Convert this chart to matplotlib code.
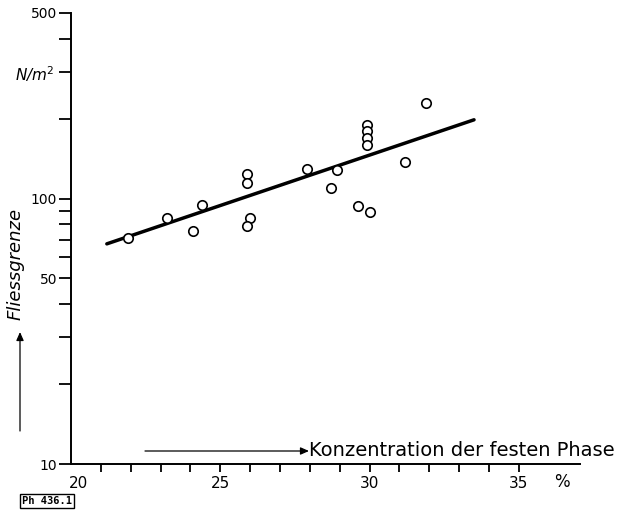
import matplotlib
matplotlib.use("Agg")
import matplotlib.pyplot as plt
from matplotlib.ticker import FixedLocator, FixedFormatter, NullLocator
import numpy as np

# data
konz = [21.9, 23.2, 24.1, 24.4, 25.9, 25.9, 26.0, 25.9, 27.9, 28.9, 28.7,
        29.9, 29.9, 29.9, 29.9, 31.2, 31.9, 29.6, 30.0]
fliess = [70.8, 84.3, 75.3, 94.4, 124, 114, 84.3, 78.8, 129, 128, 110,
          190, 179, 169, 158.5, 137, 229, 93.9, 89.3]
fit_x = [21.2, 33.5]
fit_y = [67.5, 198]

x_ticks = list(range(21, 36))
x_labels = {25: "25", 30: "30", 35: "35"}
y_ticks = [10, 20, 30, 40, 50, 60, 70, 80, 90, 100, 200, 300, 400, 500]
y_labels = {10: "10", 50: "50", 100: "100", 500: "500"}

W, H = 618, 512
fig = plt.figure(figsize=(W / 100, H / 100), dpi=100)
fx = lambda px: px / W
fy = lambda py: 1 - py / H

ax = fig.add_axes([fx(71), fy(464), fx(580) - fx(71), fy(13) - fy(464)])
ax.set_yscale("log")
ax.set_xlim(20, 37.05)
ax.set_ylim(10, 500)

for s in ["top", "right"]:
    ax.spines[s].set_visible(False)
for s in ["left", "bottom"]:
    ax.spines[s].set_linewidth(1.4)
    ax.spines[s].set_color("black")

ax.xaxis.set_major_locator(FixedLocator(x_ticks))
ax.xaxis.set_major_formatter(FixedFormatter([x_labels.get(t, "") for t in x_ticks]))
ax.xaxis.set_minor_locator(NullLocator())
ax.yaxis.set_major_locator(FixedLocator(y_ticks))
ax.yaxis.set_major_formatter(FixedFormatter([y_labels.get(t, "") for t in y_ticks]))
ax.yaxis.set_minor_locator(NullLocator())
ax.tick_params(axis="x", direction="out", length=6, width=1.3, pad=3, labelsize=11)
ax.tick_params(axis="y", direction="out", length=8.5, width=1.3, pad=1.5, labelsize=10)

ax.plot(fit_x, fit_y, color="black", lw=2.5, solid_capstyle="round", zorder=2)
ax.plot(konz, fliess, linestyle="none", marker="o", markersize=6.8,
        markerfacecolor="white", markeredgecolor="black", markeredgewidth=1.2,
        zorder=3, clip_on=False)

# "20" label under origin
fig.text(fx(78), fy(484), "20", fontsize=11, ha="center", va="center")
fig.text(fx(562), fy(482), "%", fontsize=12, ha="center", va="center")

# x axis title with arrow
fig.text(fx(309), fy(450), "Konzentration der festen Phase", fontsize=14,
         ha="left", va="center")
fig.add_artist(matplotlib.patches.FancyArrowPatch(
    (fx(145), fy(451)), (fx(309), fy(451)), transform=fig.transFigure,
    arrowstyle="-|>,head_length=5,head_width=2.2", color="black", lw=0.9,
    shrinkA=0, shrinkB=0))

# y axis title with arrow
fig.text(fx(16), fy(264), "Fliessgrenze", fontsize=13, rotation=90,
         style="italic", ha="center", va="center")
fig.add_artist(matplotlib.patches.FancyArrowPatch(
    (fx(20), fy(431)), (fx(20), fy(332)), transform=fig.transFigure,
    arrowstyle="-|>,head_length=5,head_width=2.2", color="black", lw=0.9,
    shrinkA=0, shrinkB=0))

fig.text(fx(35), fy(74), "N/m$^2$", fontsize=11, style="italic",
         ha="center", va="center")

fig.text(fx(47), fy(501), "Ph 436.1", fontsize=7.5, family="DejaVu Sans Mono",
         weight="bold", ha="center", va="center",
         bbox=dict(boxstyle="square,pad=0.2", facecolor="white",
                   edgecolor="black", linewidth=1.0))

fig.savefig("out.png", dpi=100)
